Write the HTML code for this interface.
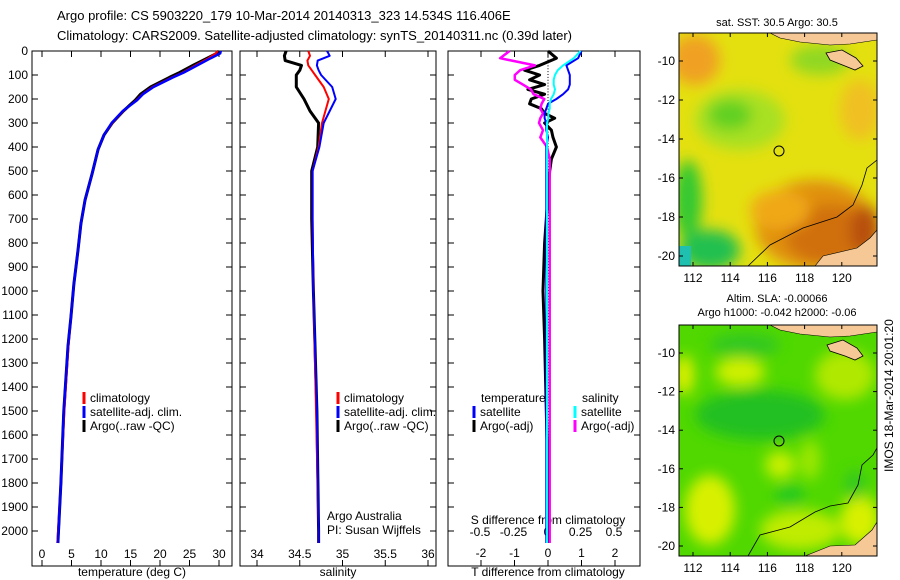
<!DOCTYPE html>
<html><head><meta charset="utf-8"><style>
html,body{margin:0;padding:0;background:#fff}
svg{display:block;font-family:"Liberation Sans",sans-serif}
</style></head><body>
<svg id="fig" width="900" height="580" viewBox="0 0 900 580" xmlns="http://www.w3.org/2000/svg">
<defs>
<filter id="blur" x="-30%" y="-30%" width="160%" height="160%"><feGaussianBlur stdDeviation="7"/></filter>
<clipPath id="c1"><rect x="679" y="33" width="198" height="233"/></clipPath>
<clipPath id="c2"><rect x="679" y="325" width="198" height="231"/></clipPath>
</defs>
<text x="57" y="20" font-size="13">Argo profile: CS 5903220_179 10-Mar-2014 20140313_323 14.534S 116.406E</text>
<text x="57" y="40" font-size="13">Climatology: CARS2009. Satellite-adjusted climatology: synTS_20140311.nc (0.39d later)</text>
<g id="panels"></g>

<!-- top map -->
<g>
<g clip-path="url(#c1)">
<rect x="679" y="33" width="198" height="233" fill="#e4e010"/>
<g filter="url(#blur)">
<ellipse cx="695" cy="60" rx="25" ry="25" fill="#f0a020"/>
<ellipse cx="740" cy="120" rx="45" ry="30" fill="#a8e020"/>
<ellipse cx="730" cy="115" rx="22" ry="15" fill="#60d020"/>
<ellipse cx="820" cy="60" rx="30" ry="15" fill="#90d820"/>
<ellipse cx="688" cy="200" rx="14" ry="40" fill="#30c830"/>
<ellipse cx="710" cy="250" rx="30" ry="20" fill="#20c050"/>
<ellipse cx="860" cy="110" rx="20" ry="30" fill="#f0c020"/>
<ellipse cx="815" cy="225" rx="60" ry="45" fill="#e09010"/>
<ellipse cx="830" cy="235" rx="45" ry="30" fill="#d07010"/>
<ellipse cx="865" cy="230" rx="15" ry="25" fill="#b85010"/>
<ellipse cx="780" cy="210" rx="30" ry="20" fill="#f0a818"/>
</g>
<rect x="679" y="246" width="12" height="20" fill="#20c0b0"/>
<path d="M748 266 L770 245 L803 228 L837 217 L853 205 L862 185 L867 168 L877 160" fill="none" stroke="#000" stroke-width="0.8"/>
<path d="M770 33 L877 33 L877 40 L850 44 L830 45 L800 42 L780 38 Z" fill="#f5c896" stroke="#000" stroke-width="0.6"/>
<path d="M826 53 L842 50 L856 58 L863 66 L855 70 L845 66 L830 60 Z" fill="#f5c896" stroke="#000" stroke-width="0.8"/>
<path d="M815 266 L823 256 L857 248 L870 238 L877 230 L877 266 Z" fill="#f5c896" stroke="#000" stroke-width="0.6"/>
<circle cx="779" cy="151" r="5" fill="none" stroke="#000" stroke-width="1"/>
</g>
<rect x="679" y="33" width="198" height="233" fill="none" stroke="#000"/>
<text x="777" y="26" font-size="11" text-anchor="middle">sat. SST: 30.5 Argo: 30.5</text>
</g>

<!-- bottom map -->
<g>
<g clip-path="url(#c2)">
<rect x="679" y="325" width="198" height="231" fill="#50d800"/>
<g filter="url(#blur)">
<ellipse cx="740" cy="372" rx="25" ry="14" fill="#d0f000"/>
<ellipse cx="684" cy="375" rx="10" ry="20" fill="#e0f000"/>
<ellipse cx="845" cy="375" rx="30" ry="25" fill="#b0e800"/>
<ellipse cx="760" cy="415" rx="65" ry="25" fill="#20c020"/>
<ellipse cx="745" cy="345" rx="35" ry="12" fill="#30c820"/>
<ellipse cx="780" cy="465" rx="15" ry="14" fill="#c8f000"/>
<ellipse cx="810" cy="460" rx="10" ry="20" fill="#a0e800"/>
<ellipse cx="710" cy="510" rx="25" ry="35" fill="#d8f000"/>
<ellipse cx="800" cy="530" rx="40" ry="20" fill="#c0ec00"/>
<ellipse cx="860" cy="520" rx="20" ry="25" fill="#d8f000"/>
<ellipse cx="790" cy="495" rx="15" ry="10" fill="#20c820"/>
<ellipse cx="855" cy="485" rx="10" ry="15" fill="#30c820"/>
</g>
<path d="M748 556 L760 535 L790 527 L815 512 L830 506 L848 503 L858 485 L862 465 L873 455 L877 448" fill="none" stroke="#000" stroke-width="0.8"/>
<path d="M770 325 L877 325 L877 332 L850 336 L830 337 L800 334 L780 330 Z" fill="#f5c896" stroke="#000" stroke-width="0.6"/>
<path d="M827 345 L843 340 L857 348 L863 356 L855 360 L845 356 L830 351 Z" fill="#f5c896" stroke="#000" stroke-width="0.8"/>
<path d="M805 556 L830 546 L855 545 L872 530 L877 522 L877 556 Z" fill="#f5c896" stroke="#000" stroke-width="0.6"/>
<circle cx="779" cy="441" r="5" fill="none" stroke="#000" stroke-width="1"/>
</g>
<rect x="679" y="325" width="198" height="231" fill="none" stroke="#000"/>
<text x="777" y="302" font-size="11" text-anchor="middle">Altim. SLA: -0.00066</text>
<text x="777" y="316" font-size="11" text-anchor="middle">Argo h1000: -0.042 h2000: -0.06</text>
</g>
<g id="mapaxes"></g>
<text transform="translate(893,472) rotate(-90)" font-size="12">IMOS 18-Mar-2014 20:01:20</text>
</svg>
<script>
// ---------- data ----------
const depthTicks=[0,100,200,300,400,500,600,700,800,900,1000,1100,1200,1300,1400,1500,1600,1700,1800,1900,2000];
const tempTicks=[0,5,10,15,20,25,30];
const salTicks=[34,34.5,35,35.5,36];
const tdiffTicks=[-2,-1,0,1,2];
const sdiffTicks=[-0.5,-0.25,0,0.25,0.5];
const sdiffLabels=["-0.5","-0.25","0","0.25","0.5"];
const lonTicks=[112,114,116,118,120];
const latTicks=[-10,-12,-14,-16,-18,-20];

const tDepth=[0,10,30,60,90,110,150,180,205,250,300,350,410,510,620,720,830,970,1110,1230,1500,1800,2050];
const tempArgo=[30.0,29.6,28.0,25.6,23.3,21.6,18.4,16.7,15.8,13.8,11.9,10.5,9.5,8.5,7.3,6.6,6.1,5.4,4.9,4.4,3.7,3.2,2.7];
const tempClim=[29.8,29.4,28.2,26.0,23.8,22.0,18.7,17.0,16.0,13.8,11.9,10.5,9.5,8.5,7.3,6.6,6.1,5.4,4.9,4.5,3.8,3.2,2.6];
const tempSat=[30.3,30.2,28.6,26.3,24.0,22.2,18.9,17.1,16.1,13.7,11.8,10.5,9.5,8.5,7.3,6.6,6.1,5.4,4.9,4.4,3.7,3.2,2.7];

const sDepth=[0,20,40,60,80,100,150,200,250,300,400,500,700,1000,1500,2000,2050];
const salArgo=[34.34,34.32,34.33,34.52,34.50,34.46,34.46,34.55,34.62,34.72,34.71,34.64,34.64,34.66,34.70,34.72,34.72];
const salClim=[34.60,34.62,34.59,34.60,34.64,34.68,34.78,34.84,34.80,34.76,34.72,34.65,34.65,34.66,34.69,34.72,34.72];
const salSat=[34.82,34.85,34.71,34.70,34.72,34.75,34.88,34.92,34.85,34.78,34.73,34.65,34.65,34.66,34.70,34.72,34.72];

const dDepth=[0,30,60,80,100,120,140,160,180,200,220,240,260,280,300,330,360,400,450,500,600,800,1000,1200,1500,1800,2050];
const tdiffSat=[1.0,0.9,0.55,0.6,0.65,0.65,0.65,0.6,0.45,0.25,0.0,-0.05,-0.1,-0.1,-0.05,-0.05,0.0,-0.05,-0.05,-0.05,-0.05,-0.05,-0.05,-0.05,-0.05,-0.05,-0.05];
const tdiffArgo=[0.0,0.25,-0.25,-0.7,-0.25,-0.55,-0.1,-0.6,-0.1,-0.5,-0.55,-0.2,-0.1,0.2,-0.1,0.1,0.15,0.25,0.1,0.05,0.0,-0.1,-0.15,-0.1,-0.05,0.0,0.0];
const sdiffSat=[0.25,0.2,0.12,0.08,0.06,0.05,0.05,0.06,0.05,0.03,0.02,0.02,0.01,0.01,0.0,0.0,0.0,0.0,0.0,0.0,0.0,0.0,0.0,0.0,0.0,0.0,0.0];
const sdiffArgo=[-0.28,-0.35,-0.09,-0.2,-0.24,-0.24,-0.18,-0.12,-0.1,-0.02,-0.04,-0.05,-0.03,-0.05,-0.06,-0.03,-0.05,0.0,0.02,0.02,0.02,0.02,0.02,0.02,0.02,0.02,0.02];

// ---------- helpers ----------
const NS="http://www.w3.org/2000/svg";
const root=document.getElementById('panels');
function mk(tag,attrs,parent){const e=document.createElementNS(NS,tag);for(const k in attrs)e.setAttribute(k,attrs[k]);(parent||root).appendChild(e);return e;}
const Y0=51,YPX=0.24,YB=566;
function yD(d){return Y0+d*YPX;}
function line(xs,ds,fx,color,w,name){
  const p=xs.map((v,i)=>fx(v).toFixed(1)+','+yD(ds[i]).toFixed(1)).join(' ');
  const el=mk('polyline',{points:p,fill:'none',stroke:color,'stroke-width':w,'stroke-linejoin':'round'});
  
  
}
function txt(x,y,s,attrs,name){const t=mk('text',Object.assign({x:x,y:y,'font-size':12},attrs||{}));t.textContent=s;
  
  
  return t;}
function frame(x0,x1,name){const r=mk('rect',{x:x0,y:Y0,width:x1-x0,height:YB-Y0,fill:'none',stroke:'#000'});
  
  }
function xticks(x0,x1,ticks,fx,labels,ly,name){
  ticks.forEach((v,i)=>{const x=fx(v);
    mk('line',{x1:x,x2:x,y1:Y0,y2:Y0+6,stroke:'#000'});
    mk('line',{x1:x,x2:x,y1:YB,y2:YB-6,stroke:'#000'});
    if(labels) txt(x,ly,labels[i],{'text-anchor':'middle'},name);
  });
}
function depthTicksFor(x0,x1,labels){
  depthTicks.forEach(d=>{const y=yD(d);
    mk('line',{x1:x0,x2:x0+6,y1:y,y2:y,stroke:'#000'});
    mk('line',{x1:x1,x2:x1-6,y1:y,y2:y,stroke:'#000'});
    if(labels) txt(x0-4,y+4,String(d),{'text-anchor':'end'},'depth-tick-label');
  });
}
function legend(x,y,color,label,name){
  const l=mk('line',{x1:x,x2:x,y1:y-10,y2:y+2,stroke:color,'stroke-width':3});
  
  
  txt(x+6,y,label,{},name);
}

// ---------- panel 1: temperature ----------
const fT=v=>42+v*5.9;
frame(32,232,'temperature-panel');
depthTicksFor(32,232,true);
xticks(32,232,tempTicks,fT,tempTicks.map(String),558,'temperature-tick-label');
txt(132,576,'temperature (deg C)',{'text-anchor':'middle'},'temperature-axis-title');
line(tempArgo,tDepth,fT,'#000',3,'temp-argo-line');
line(tempClim,tDepth,fT,'#f00',2,'temp-clim-line');
line(tempSat,tDepth,fT,'#00f',2.5,'temp-sat-line');
legend(84,402,'#f00','climatology','legend-climatology');
legend(84,416,'#00f','satellite-adj. clim.','legend-satellite-adj');
legend(84,430,'#000','Argo(..raw -QC)','legend-argo');

// ---------- panel 2: salinity ----------
const fS=v=>257+(v-34)*85.5;
frame(240,436,'salinity-panel');
depthTicksFor(240,436,false);
xticks(240,436,salTicks,fS,salTicks.map(String),558,'salinity-tick-label');
txt(338,576,'salinity',{'text-anchor':'middle'},'salinity-axis-title');
line(salArgo,sDepth,fS,'#000',3,'sal-argo-line');
line(salClim,sDepth,fS,'#f00',2,'sal-clim-line');
line(salSat,sDepth,fS,'#00f',2,'sal-sat-line');
legend(338,402,'#f00','climatology','legend-sal-climatology');
legend(338,416,'#00f','satellite-adj. clim.','legend-sal-satellite-adj');
legend(338,430,'#000','Argo(..raw -QC)','legend-sal-argo');
txt(327,520,'Argo Australia',{},'credit-argo-australia');
txt(327,534,'PI: Susan Wijffels',{},'credit-pi');

// ---------- panel 3: differences ----------
const fTd=v=>548+v*33.5;
const fSd=v=>547+v*134;
frame(448,640,'difference-panel');
depthTicksFor(448,640,false);
xticks(448,640,tdiffTicks,fTd,tdiffTicks.map(String),557,'tdiff-tick-label');
sdiffTicks.forEach((v,i)=>txt(fSd(v),536,sdiffLabels[i],{'text-anchor':'middle'},'sdiff-tick-label'));
txt(548,524,'S difference from climatology',{'text-anchor':'middle'},'sdiff-axis-title');
txt(548,576,'T difference from climatology',{'text-anchor':'middle'},'tdiff-axis-title');
for(let d=0;d<2050;d+=12){mk('line',{x1:548,x2:548,y1:yD(d),y2:yD(d)+1,stroke:'#000'});}
line(tdiffArgo,dDepth,fTd,'#000',3,'tdiff-argo-line');
line(sdiffArgo,dDepth,fSd,'#f0f',2.5,'sdiff-argo-line');
line(tdiffSat,dDepth,fTd,'#00f',2,'tdiff-sat-line');
line(sdiffSat,dDepth,fSd,'#0ff',2,'sdiff-sat-line');
txt(481,402,'temperature',{},'legend-temperature-header');
legend(474,416,'#00f','satellite','legend-t-satellite');
legend(474,430,'#000','Argo(-adj)','legend-t-argo');
txt(582,402,'salinity',{},'legend-salinity-header');
legend(575,416,'#0ff','satellite','legend-s-satellite');
legend(575,430,'#f0f','Argo(-adj)','legend-s-argo');

// ---------- map axes ----------
const ma=document.getElementById('mapaxes');
const fLon=v=>693+(v-112)*18.6;
function mapAxes(top,bot,lat0y,latpx,name){
  lonTicks.forEach(v=>{const x=fLon(v);
    mk('line',{x1:x,x2:x,y1:bot,y2:bot-4,stroke:'#000'},ma);
    mk('line',{x1:x,x2:x,y1:top,y2:top+4,stroke:'#000'},ma);
    const t=mk('text',{x:x,y:bot+16,'font-size':12,'text-anchor':'middle'},ma);t.textContent=String(v);
    
    
  });
  latTicks.forEach(v=>{const y=lat0y+(-10-v)*latpx;
    mk('line',{x1:679,x2:683,y1:y,y2:y,stroke:'#000'},ma);
    mk('line',{x1:877,x2:873,y1:y,y2:y,stroke:'#000'},ma);
    const t=mk('text',{x:675,y:y+4,'font-size':12,'text-anchor':'end'},ma);t.textContent=String(v);
    
    
  });
}
mapAxes(33,266,61,19.5,'sst-map');
mapAxes(325,556,353,19.3,'sla-map');
</script>
</body></html>
